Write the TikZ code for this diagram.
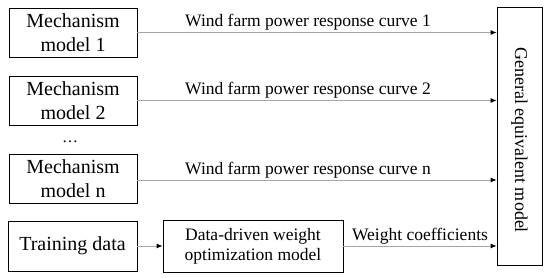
\documentclass[tikz,border=0pt]{standalone}
\usepackage{fontspec}
\setmainfont{Liberation Serif}
\usetikzlibrary{arrows.meta}
\begin{document}
\begin{tikzpicture}[x=1pt,y=1pt,
  box/.style={draw=black, line width=0.8pt, inner sep=0pt, align=center,
    font=\fontsize{20}{24}\selectfont},
  conn/.style={draw=black!35, line width=0.8pt, -{Latex[black,length=6pt,width=5pt]}},
  lbl/.style={font=\fontsize{17.5}{21}\selectfont, above, inner sep=1.5pt}]
\useasboundingbox (0,0) rectangle (550,277);
\node[box, minimum width=128pt, minimum height=49pt] (m1) at (73,244.5) {Mechanism\\model 1};
\node[box, minimum width=128pt, minimum height=49pt] (m2) at (73,176.5) {Mechanism\\model 2};
\node[font=\fontsize{16}{18}\selectfont] (dots) at (70,135) {\dots};
\node[box, minimum width=128pt, minimum height=49pt] (mn) at (73,98.5) {Mechanism\\model n};
\node[box, minimum width=129pt, minimum height=50pt] (tr) at (72.5,31) {Training data};
\node[box, minimum width=180pt, minimum height=52pt, font=\fontsize{17.5}{20}\selectfont] (dd) at (253,31) {Data-driven weight\\optimization model};
\node[box, minimum width=45pt, minimum height=258pt] (gen) at (519.5,141) {};
\node[rotate=-90, font=\fontsize{18}{21}\selectfont] (gent) at ([yshift=-4pt]gen.center) {General equivalent model};
\draw[conn] (m1.east) -- node[lbl, pos=0.475] {Wind farm power response curve 1} (m1.east -| gen.west);
\draw[conn] (m2.east) -- node[lbl, pos=0.475] {Wind farm power response curve 2} (m2.east -| gen.west);
\draw[conn] ([yshift=-1.5pt]mn.east) -- node[lbl, pos=0.475] {Wind farm power response curve n} ([yshift=-1.5pt]mn.east -| gen.west);
\draw[conn] (tr.east) -- (tr.east -| dd.west);
\draw[conn] (dd.east) -- node[lbl] {Weight coefficients} (dd.east -| gen.west);
\end{tikzpicture}
\end{document}
